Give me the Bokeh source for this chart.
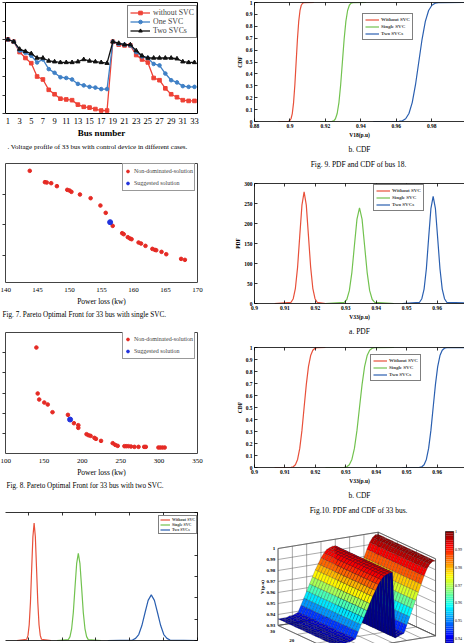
import numpy as np
from bokeh.plotting import figure
from bokeh.layouts import row, column
from bokeh.models import (Range1d, LinearAxis, FixedTicker, NumeralTickFormatter,
                          CustomJSTickFormatter, Legend, LegendItem, Title)
from bokeh.core.properties import value
from bokeh.embed import file_html
from bokeh.resources import INLINE

SERIF = "Liberation Serif"

# ---------------- data: Fig. 6 voltage profile ----------------
buses = list(range(1, 34))
bus_ticks = [1, 3, 5, 7, 9, 11, 13, 15, 17, 19, 21, 23, 25, 27, 29, 31, 33]
v6_ticks = [0.9, 0.925, 0.95, 0.975, 1.0, 1.025, 1.05]
v_without = [1.000, 0.997, 0.983, 0.975, 0.968, 0.950, 0.946, 0.932, 0.926, 0.920, 0.919,
             0.918, 0.912, 0.909, 0.908, 0.906, 0.904, 0.904, 0.997, 0.993, 0.992, 0.992,
             0.979, 0.973, 0.969, 0.948, 0.945, 0.934, 0.926, 0.922, 0.918, 0.917, 0.917]
v_one = [1.000, 0.997, 0.985, 0.982, 0.978, 0.969, 0.973, 0.960, 0.955, 0.949, 0.948,
         0.946, 0.940, 0.938, 0.936, 0.935, 0.933, 0.933, 0.997, 0.994, 0.993, 0.992,
         0.983, 0.977, 0.975, 0.967, 0.965, 0.954, 0.945, 0.942, 0.937, 0.936, 0.936]
v_two = [1.000, 0.997, 0.987, 0.984, 0.981, 0.975, 0.975, 0.971, 0.970, 0.969, 0.969,
         0.969, 0.970, 0.973, 0.971, 0.970, 0.969, 0.968, 0.997, 0.995, 0.993, 0.993,
         0.985, 0.978, 0.975, 0.975, 0.975, 0.975, 0.975, 0.974, 0.970, 0.969, 0.969]

# ---------------- data: Fig. 7 Pareto front (single SVC) ----------------
p7_loss = [143.79, 146.16, 146.45, 147.14, 148.03, 149.65, 150.00, 150.30, 151.63, 153.30,
           154.83, 155.66, 156.75, 158.23, 158.47, 159.11, 159.46, 159.70, 160.79, 161.18,
           161.87, 162.95, 163.35, 163.55, 164.38, 165.12, 167.44, 168.03]
p7_obj = [3.760, 3.388, 3.377, 3.355, 3.257, 3.137, 3.115, 3.071, 2.984, 2.863,
          2.623, 2.383, 1.956, 1.716, 1.683, 1.585, 1.541, 1.519, 1.410, 1.377,
          1.301, 1.202, 1.169, 1.158, 1.104, 1.027, 0.874, 0.842]
p7_best_loss = [156.35]
p7_best_obj = [2.077]
p7_xticks = [140, 145, 150, 155, 160, 165, 170]
p7_yticks = [1, 2, 3]

# ---------------- data: Fig. 8 Pareto front (two SVCs) ----------------
p8_loss = [140.2, 141.9, 143.9, 150.5, 155.0, 161.2, 181.3, 189.1, 194.8, 194.8, 205.5,
           208.0, 210.8, 215.8, 217.8, 224.4, 239.6, 242.9, 246.1, 254.8, 257.2, 260.1,
           263.4, 267.9, 273.2, 280.6, 282.7, 299.1, 301.6, 304.4, 307.3]
p8_obj = [5.255, 2.975, 2.677, 2.528, 2.429, 2.048, 1.916, 1.502, 1.403, 1.271, 0.957,
          0.907, 0.874, 0.775, 0.725, 0.626, 0.511, 0.428, 0.378, 0.362, 0.362, 0.362,
          0.346, 0.329, 0.329, 0.329, 0.329, 0.296, 0.296, 0.296, 0.296]
p8_best_loss = [184.1]
p8_best_obj = [1.685]
p8_xticks = [100, 150, 200, 250, 300, 350]
p8_yticks = [1, 2, 3, 4, 5]

# ---------------- data: bus 18 distributions (Fig. 9) ----------------
b18_red_x = [0.8934, 0.89915, 0.89988, 0.9006, 0.90133, 0.90205, 0.90278, 0.9035,
             0.90423, 0.90495, 0.90568, 0.9064, 0.90713, 0.90785, 0.9135]
b18_red_pdf = [0, 3, 12, 37, 89, 167, 243, 275, 243, 167, 89, 37, 12, 3, 0]
b18_green_x = [0.9170, 0.92372, 0.9247, 0.92568, 0.92666, 0.92764, 0.92862, 0.9296,
               0.93058, 0.93156, 0.93254, 0.93352, 0.9345, 0.93548, 0.9430]
b18_green_pdf = [0, 2, 9, 28, 66, 124, 180, 204, 180, 124, 66, 28, 9, 2, 0]
b18_blue_x = [0.9470, 0.9616, 0.96345, 0.9653, 0.96715, 0.969, 0.97085, 0.9727,
              0.97455, 0.9764, 0.97825, 0.9801, 0.98195, 0.9838, 1.0]
b18_blue_pdf = [0, 1, 5, 14, 35, 65, 94, 107, 94, 65, 35, 14, 5, 1, 0]

# ---------------- data: bus 33 distributions (Fig. 10) ----------------
b33_red_x = [0.9066, 0.91201, 0.91273, 0.91344, 0.91416, 0.91487, 0.91559, 0.9163,
             0.91702, 0.91773, 0.91845, 0.91916, 0.91988, 0.92059, 0.9233]
b33_red_pdf = [0, 3, 12, 38, 91, 169, 246, 279, 246, 169, 91, 38, 12, 3, 0]
b33_green_x = [0.9233, 0.92949, 0.93033, 0.93116, 0.93200, 0.93283, 0.93367, 0.9345,
               0.93534, 0.93617, 0.93701, 0.93784, 0.93868, 0.93951, 0.9458]
b33_green_pdf = [0, 3, 10, 32, 78, 145, 211, 239, 211, 145, 78, 32, 10, 3, 0]
b33_blue_x = [0.9485, 0.95423, 0.95498, 0.95572, 0.95647, 0.95721, 0.95796, 0.9587,
              0.95945, 0.96019, 0.96094, 0.96168, 0.96243, 0.96317, 0.9750]
b33_blue_pdf = [0, 3, 12, 36, 87, 163, 237, 268, 237, 163, 87, 36, 12, 3, 0]
# CDF values read at the same abscissas (identical shape for all curves)
cdf_levels = [0, 0.001, 0.006, 0.023, 0.067, 0.159, 0.309, 0.5, 0.691, 0.841, 0.933,
              0.977, 0.994, 0.999, 1]

v18_ticks = [0.88, 0.9, 0.92, 0.94, 0.96, 0.98, 1.0]
v33_ticks = [0.9, 0.91, 0.92, 0.93, 0.94, 0.95, 0.96, 0.97]
cdf_ticks = [0, 0.1, 0.2, 0.3, 0.4, 0.5, 0.6, 0.7, 0.8, 0.9, 1]
pdf_ticks = [0, 50, 100, 150, 200, 250, 300]
series_names = ["Without SVC", "Single SVC", "Two SVCs"]

# ---------------- data: 3-D voltage surface ----------------
surf_v = [0.936, 0.936, 0.936, 0.936, 0.937, 0.937, 0.938, 0.939, 0.945, 0.951, 0.957,
          0.963, 0.969, 0.975, 0.980, 0.985, 0.989, 0.992, 0.993, 0.994, 0.994, 0.934,
          0.935, 0.936, 0.937, 0.944, 0.951, 0.958, 0.965, 0.972, 0.979, 0.986, 0.992,
          0.996, 0.998, 0.998]
surf_b = [0, 1.5, 3, 4.5, 6, 7.5, 9, 10.5, 12, 13.5, 15, 16.5, 18, 19.5, 21, 22.5, 24,
          25.5, 27, 28.5, 30]
z_ticks = [1.0, 0.99, 0.98, 0.97, 0.96, 0.95, 0.94, 0.93]
z_labels = ["1", "0.99", "0.98", "0.97", "0.96", "0.95", "0.94", "0.93"]
a_grid_ticks = [0, 5, 10, 15, 20, 25, 30, 35]
b_grid_ticks = [0, 10, 20, 30]
b_tick_labels_vals = [30, 20]
b_tick_labels = ["30", "20"]
cbar_ticks = [1.0, 0.99, 0.98, 0.97, 0.96, 0.95, 0.94]
cbar_labels = ["1", "0.99", "0.98", "0.97", "0.96", "0.95", "0.94"]

# ---------------- styles ----------------
RED6, BLUE6, BLACK = "#ee4236", "#3f80c6", "#111111"
PRED, PBLUE = "#e52a24", "#2233dd"
MRED, MGREEN, MBLUE = "#e8503a", "#72c24f", "#2a5fb0"


def base_fig(w, h, xr, yr, left, right, top, bottom, **kw):
    p = figure(width=w, height=h, x_range=xr, y_range=yr, output_backend="svg",
               toolbar_location=None, min_border_left=left, min_border_right=right,
               min_border_top=top, min_border_bottom=bottom, title=None, **kw)
    for g in p.grid:
        g.grid_line_color = None
    p.background_fill_color = "white"
    p.border_fill_color = "white"
    return p


def excel_axis(ax, size, tick_in=0, tick_out=0, standoff=4, labels=True):
    ax.axis_line_color = None
    ax.major_tick_line_color = "#333333"
    ax.major_tick_in = tick_in
    ax.major_tick_out = tick_out
    ax.minor_tick_line_color = None
    if labels:
        ax.major_label_text_font = SERIF
        ax.major_label_text_font_size = f"{size}px"
        ax.major_label_text_color = "black"
        ax.major_label_standoff = standoff
    else:
        ax.formatter = CustomJSTickFormatter(code="return ''")
        ax.major_label_standoff = 0


def ml_axis(ax, ticks, size=5.5, labels=True, standoff=2):
    ax.ticker = FixedTicker(ticks=ticks)
    ax.axis_line_color = "black"
    ax.axis_line_width = 0.8
    ax.major_tick_line_color = "black"
    ax.major_tick_line_width = 0.8
    ax.major_tick_in = 3
    ax.major_tick_out = 0
    ax.minor_tick_line_color = None
    if labels:
        ax.formatter = NumeralTickFormatter(format="0.[00]")
        ax.major_label_text_font = SERIF
        ax.major_label_text_font_style = "bold"
        ax.major_label_text_font_size = f"{size}px"
        ax.major_label_text_color = "black"
        ax.major_label_standoff = standoff
    else:
        ax.formatter = CustomJSTickFormatter(code="return ''")
        ax.major_label_standoff = 0


def axis_title(ax, text, size, bold=True, standoff=1):
    ax.axis_label = text
    ax.axis_label_text_font = SERIF
    ax.axis_label_text_font_size = f"{size}px"
    ax.axis_label_text_font_style = "bold" if bold else "normal"
    ax.axis_label_text_color = "black"
    ax.axis_label_standoff = standoff


def caption(p, text, size, align="center", offset=0, standoff=0):
    t = Title(text=text, align=align, offset=offset, standoff=standoff,
              text_font=SERIF, text_font_size=f"{size}px", text_font_style="normal",
              text_color="black")
    p.add_layout(t, "below")


def ml_legend(p, renderers, loc, size=5, lh=7, gw=14, pad=2):
    items = [LegendItem(label=n, renderers=[r]) for n, r in zip(series_names, renderers)]
    lg = Legend(items=items, location=loc, label_text_font=SERIF,
                label_text_font_style="bold", label_text_font_size=f"{size}px",
                label_height=lh, glyph_height=lh, glyph_width=gw, label_standoff=2,
                label_width=10, padding=pad, spacing=0, margin=0,
                border_line_color="black", border_line_width=0.7, background_fill_alpha=1)
    p.add_layout(lg)


# ================= LEFT COLUMN =================
# Fig. 6
p6 = base_fig(232, 155, Range1d(0.58, 33.52), Range1d(0.9, 1.05), 3, 18, 2, 42)
p6.outline_line_color = "black"
p6.outline_line_width = 1
p6.xaxis.ticker = FixedTicker(ticks=bus_ticks)
excel_axis(p6.xaxis[0], 8.5, standoff=4)
axis_title(p6.xaxis[0], "Bus number", 9, bold=True, standoff=1)
p6.yaxis.ticker = FixedTicker(ticks=v6_ticks)
excel_axis(p6.yaxis[0], 0, tick_out=3, labels=False)
r_w_l = p6.line(buses, v_without, line_color=RED6, line_width=1.3)
r_w_s = p6.scatter(buses, v_without, marker="square", size=3.6, color=RED6)
r_o_l = p6.line(buses, v_one, line_color=BLUE6, line_width=1.3)
r_o_s = p6.scatter(buses, v_one, marker="circle", size=3.6, color=BLUE6)
r_t_l = p6.line(buses, v_two, line_color=BLACK, line_width=1.3)
r_t_s = p6.scatter(buses, v_two, marker="triangle", size=4.2, color=BLACK)
lg6 = Legend(items=[LegendItem(label="without SVC", renderers=[r_w_l, r_w_s]),
                    LegendItem(label="One SVC", renderers=[r_o_l, r_o_s]),
                    LegendItem(label="Two SVCs", renderers=[r_t_l, r_t_s])],
             location=(122, 75), label_text_font=SERIF, label_text_font_size="7.8px",
             label_height=9, glyph_height=9, glyph_width=20, label_standoff=3,
             label_width=10, padding=2, spacing=0, margin=0, border_line_color="black",
             border_line_width=1, background_fill_alpha=1)
p6.add_layout(lg6)
caption(p6, ". Voltage profile of 33 bus with control device in different cases.", 7,
        align="left", offset=2)

# Fig. 7
p7 = base_fig(232, 167, Range1d(140, 170), Range1d(0.1, 4.0), 5, 24, 8, 40)
p7.outline_line_color = "#444444"
p7.outline_line_width = 1
p7.xaxis.ticker = FixedTicker(ticks=p7_xticks)
excel_axis(p7.xaxis[0], 7, standoff=5)
axis_title(p7.xaxis[0], "Power loss (kw)", 7.5, bold=False, standoff=2)
p7.yaxis.ticker = FixedTicker(ticks=p7_yticks)
excel_axis(p7.yaxis[0], 0, tick_out=3, labels=False)
r7a = p7.scatter(p7_loss, p7_obj, marker="circle", size=3.6, color=PRED)
r7b = p7.scatter(p7_best_loss, p7_best_obj, marker="circle", size=5, color=PBLUE)
lg7 = Legend(items=[LegendItem(label="Non-dominated-solution", renderers=[r7a]),
                    LegendItem(label="Suggested solution", renderers=[r7b])],
             location=(117, 91), label_text_font=SERIF, label_text_font_size="6px",
             label_height=12, glyph_height=12, glyph_width=7, label_standoff=3,
             label_width=10, padding=1, spacing=0, margin=0, border_line_color="#333333",
             border_line_width=1, background_fill_alpha=1)
p7.add_layout(lg7)
caption(p7, "Fig. 7.  Pareto Optimal Front for 33 bus with single SVC.", 7.2,
        align="left", offset=-3)

# Fig. 8
p8 = base_fig(232, 173, Range1d(100, 350), Range1d(0, 6), 5, 24, 10, 42)
p8.outline_line_color = "#444444"
p8.outline_line_width = 1
p8.xaxis.ticker = FixedTicker(ticks=p8_xticks)
excel_axis(p8.xaxis[0], 7, standoff=5)
axis_title(p8.xaxis[0], "Power loss (kw)", 7.5, bold=False, standoff=2)
p8.yaxis.ticker = FixedTicker(ticks=p8_yticks)
excel_axis(p8.yaxis[0], 0, tick_out=3, labels=False)
r8a = p8.scatter(p8_loss, p8_obj, marker="circle", size=3.6, color=PRED)
r8b = p8.scatter(p8_best_loss, p8_best_obj, marker="circle", size=5, color=PBLUE)
lg8 = Legend(items=[LegendItem(label="Non-dominated-solution", renderers=[r8a]),
                    LegendItem(label="Suggested solution", renderers=[r8b])],
             location=(117, 94), label_text_font=SERIF, label_text_font_size="6px",
             label_height=12, glyph_height=12, glyph_width=7, label_standoff=3,
             label_width=10, padding=1, spacing=0, margin=0, border_line_color="#333333",
             border_line_width=1, background_fill_alpha=1)
p8.add_layout(lg8)
caption(p8, "Fig. 8.  Pareto Optimal Front for 33 bus with two SVC.", 7.2,
        align="left", offset=1)

# Fig. 9a  PDF of bus 18 (partly visible)
p9a = base_fig(232, 148, Range1d(0.8866, 1.0), Range1d(0, 300), 0, 35, 17, 3,
               y_axis_location="right")
p9a.outline_line_color = None
ml_axis(p9a.xaxis[0], v18_ticks, labels=False)
ml_axis(p9a.yaxis[0], pdf_ticks, labels=False)
top9a = LinearAxis()
ml_axis(top9a, v18_ticks, labels=False)
p9a.add_layout(top9a, "above")
ra = p9a.line(b18_red_x, b18_red_pdf, line_color=MRED, line_width=1.2)
rb = p9a.line(b18_green_x, b18_green_pdf, line_color=MGREEN, line_width=1.2)
rc = p9a.line(b18_blue_x, b18_blue_pdf, line_color=MBLUE, line_width=1.2)
ml_legend(p9a, [ra, rb, rc], (153, 106), size=4, lh=5, gw=10, pad=1)

# ================= RIGHT COLUMN =================
# Fig. 9b CDF of bus 18
p9b = base_fig(232, 172, Range1d(0.88, 0.9985), Range1d(0, 1), 21, 0, 2, 51)
p9b.outline_line_color = None
ml_axis(p9b.xaxis[0], v18_ticks)
ml_axis(p9b.yaxis[0], cdf_ticks)
axis_title(p9b.xaxis[0], "V18(p.u)", 5.5, standoff=1)
axis_title(p9b.yaxis[0], "CDF", 5.5, standoff=0)
top9b = LinearAxis()
ml_axis(top9b, v18_ticks, labels=False)
p9b.add_layout(top9b, "above")
ra = p9b.line(b18_red_x, cdf_levels, line_color=MRED, line_width=1.2)
rb = p9b.line(b18_green_x, cdf_levels, line_color=MGREEN, line_width=1.2)
rc = p9b.line(b18_blue_x, cdf_levels, line_color=MBLUE, line_width=1.2)
ml_legend(p9b, [ra, rb, rc], (108, 81))
caption(p9b, "b. CDF", 7.5, standoff=4)
caption(p9b, "Fig. 9.  PDF and CDF of bus 18.", 7.5, standoff=4)

# Fig. 10a PDF of bus 33
p10a = base_fig(232, 165, Range1d(0.9, 0.969), Range1d(0, 300), 21, 0, 11, 32)
p10a.outline_line_color = None
ml_axis(p10a.xaxis[0], v33_ticks)
ml_axis(p10a.yaxis[0], pdf_ticks)
axis_title(p10a.xaxis[0], "V33(p.u)", 5.5, standoff=1)
axis_title(p10a.yaxis[0], "PDF", 5.5, standoff=0)
top10a = LinearAxis()
ml_axis(top10a, v33_ticks, labels=False)
p10a.add_layout(top10a, "above")
ra = p10a.line(b33_red_x, b33_red_pdf, line_color=MRED, line_width=1.2)
rb = p10a.line(b33_green_x, b33_green_pdf, line_color=MGREEN, line_width=1.2)
rc = p10a.line(b33_blue_x, b33_blue_pdf, line_color=MBLUE, line_width=1.2)
ml_legend(p10a, [ra, rb, rc], (119, 92))
caption(p10a, "a. PDF", 7.5, standoff=4)

# Fig. 10b CDF of bus 33
p10b = base_fig(232, 179, Range1d(0.9, 0.969), Range1d(0, 1), 21, 0, 10, 48)
p10b.outline_line_color = None
ml_axis(p10b.xaxis[0], v33_ticks)
ml_axis(p10b.yaxis[0], cdf_ticks)
axis_title(p10b.xaxis[0], "V33(p.u)", 5.5, standoff=1)
axis_title(p10b.yaxis[0], "CDF", 5.5, standoff=0)
top10b = LinearAxis()
ml_axis(top10b, v33_ticks, labels=False)
p10b.add_layout(top10b, "above")
ra = p10b.line(b33_red_x, cdf_levels, line_color=MRED, line_width=1.2)
rb = p10b.line(b33_green_x, cdf_levels, line_color=MGREEN, line_width=1.2)
rc = p10b.line(b33_blue_x, cdf_levels, line_color=MBLUE, line_width=1.2)
ml_legend(p10b, [ra, rb, rc], (116, 86))
caption(p10b, "b. CDF", 7.5, standoff=4)
caption(p10b, "Fig.10.  PDF and CDF of 33 bus.", 7.5, standoff=4)

# 3-D surface of node voltages (oblique projection onto the panel)
W3, H3 = 232, 127
p3 = figure(width=W3, height=H3, x_range=Range1d(0, W3), y_range=Range1d(H3, 0),
            output_backend="svg", toolbar_location=None, min_border=0, title=None,
            x_axis_location=None, y_axis_location=None)
p3.outline_line_color = None
p3.background_fill_color = "white"
p3.border_fill_color = "white"
for g in p3.grid:
    g.grid_line_color = None

O3 = (26.0, 109.0)      # back-left floor corner
AX = (110.7, -16.3)     # full A-axis vector
BX = (63.3, 26.6)       # back -> front vector
ZH = 77.0
Z0, Z1 = 0.93, 1.0
A_MAX = len(surf_v) - 1
B_MAX = 30.0


def proj(a, b, z):
    fa = a / A_MAX
    fb = (B_MAX - b) / B_MAX
    x = O3[0] + fa * AX[0] + fb * BX[0]
    y = O3[1] + fa * AX[1] + fb * BX[1] - (z - Z0) / (Z1 - Z0) * ZH
    return x, y


def jet(t):
    t = min(max(t, 0.0), 1.0)
    t = (np.floor(t * 63.999) + 0.5) / 64.0
    r = min(max(1.5 - abs(4 * t - 3), 0), 1)
    g = min(max(1.5 - abs(4 * t - 2), 0), 1)
    b = min(max(1.5 - abs(4 * t - 1), 0), 1)
    return "#%02x%02x%02x" % (int(r * 255), int(g * 255), int(b * 255))


CLIM = (0.933, 1.0)


def poly(pts):
    xs, ys = zip(*[proj(*q) for q in pts])
    return list(xs), list(ys)


walls = [poly([(0, B_MAX, Z0), (0, B_MAX, Z1), (A_MAX, B_MAX, Z1), (A_MAX, B_MAX, Z0)]),
         poly([(A_MAX, B_MAX, Z0), (A_MAX, B_MAX, Z1), (A_MAX, 0, Z1), (A_MAX, 0, Z0)]),
         poly([(0, B_MAX, Z0), (A_MAX, B_MAX, Z0), (A_MAX, 0, Z0), (0, 0, Z0)])]
p3.patches([w[0] for w in walls], [w[1] for w in walls], fill_color="white",
           line_color="#333333", line_width=0.6)
gx, gy = [], []
for a in a_grid_ticks:
    x, y = poly([(a, B_MAX, Z0), (a, B_MAX, Z1)]); gx.append(x); gy.append(y)
    x, y = poly([(a, B_MAX, Z0), (a, 0, Z0)]); gx.append(x); gy.append(y)
for z in z_ticks:
    x, y = poly([(0, B_MAX, z), (A_MAX, B_MAX, z)]); gx.append(x); gy.append(y)
    x, y = poly([(A_MAX, B_MAX, z), (A_MAX, 0, z)]); gx.append(x); gy.append(y)
for b in b_grid_ticks:
    x, y = poly([(A_MAX, b, Z0), (A_MAX, b, Z1)]); gx.append(x); gy.append(y)
    x, y = poly([(0, b, Z0), (A_MAX, b, Z0)]); gx.append(x); gy.append(y)
p3.multi_line(gx, gy, line_color="#555555", line_width=0.5)

# surface faces, painted far to near
faces = []
for i in range(len(surf_v) - 1):
    for j in range(len(surf_b) - 1):
        pts = [(i, surf_b[j], surf_v[i]), (i + 1, surf_b[j], surf_v[i + 1]),
               (i + 1, surf_b[j + 1], surf_v[i + 1]), (i, surf_b[j + 1], surf_v[i])]
        xs, ys = poly(pts)
        fa = (i + 0.5) / A_MAX
        fb = (B_MAX - 0.5 * (surf_b[j] + surf_b[j + 1])) / B_MAX
        depth = fa * 16.3 - fb * 26.6
        col = jet((surf_v[i + 1] - CLIM[0]) / (CLIM[1] - CLIM[0]))
        faces.append((depth, xs, ys, col))
faces.sort(key=lambda f: -f[0])
p3.patches([f[1] for f in faces], [f[2] for f in faces], fill_color=[f[3] for f in faces],
           line_color="#1a1a1a", line_width=0.3, line_alpha=0.7)

# z tick labels and axis title
zx, zy = zip(*[proj(0, B_MAX, z) for z in z_ticks])
p3.text([x - 3 for x in zx], list(zy), text=z_labels, text_font=value(SERIF),
        text_font_style="bold", text_font_size="5px", text_align="right",
        text_baseline="middle", text_color="black")
bx, by = zip(*[proj(0, b, Z0) for b in b_tick_labels_vals])
p3.text([x - 6 for x in bx], [y + 6 for y in by], text=b_tick_labels,
        text_font=value(SERIF), text_font_style="bold", text_font_size="5px",
        text_align="center", text_baseline="middle", text_color="black")
mid = proj(0, B_MAX, 0.5 * (Z0 + Z1))
p3.text([mid[0] - 16.7], [mid[1]], text=["V(p.u)"], angle=np.pi / 2,
        text_font=value(SERIF), text_font_style="bold", text_font_size="5px",
        text_align="center", text_baseline="middle", text_color="black")

# colour bar
CB_X0, CB_X1, CB_TOP, CB_SCALE = 211.0, 220.0, 15.0, 1784.0


def cb_y(v):
    return CB_TOP + (CLIM[1] - v) * CB_SCALE


levels = np.linspace(CLIM[0], CLIM[1], 65)
p3.quad(left=CB_X0, right=CB_X1, top=[cb_y(v) for v in levels[1:]],
        bottom=[cb_y(v) for v in levels[:-1]],
        fill_color=[jet((k + 0.5) / 64) for k in range(64)], line_color=None)
p3.quad(left=[CB_X0], right=[CB_X1], top=[cb_y(CLIM[1])], bottom=[cb_y(CLIM[0])],
        fill_color=None, line_color="black", line_width=0.6)
p3.text([CB_X1 + 1.5] * len(cbar_ticks), [cb_y(v) for v in cbar_ticks], text=cbar_labels,
        text_font=value(SERIF), text_font_size="4px", text_align="left",
        text_baseline="middle", text_color="black")

left = column(p6, p7, p8, p9a, spacing=0)
right = column(p9b, p10a, p10b, p3, spacing=0)
layout = row(left, right, spacing=0)

open("out.html", "w").write(file_html(layout, INLINE))
